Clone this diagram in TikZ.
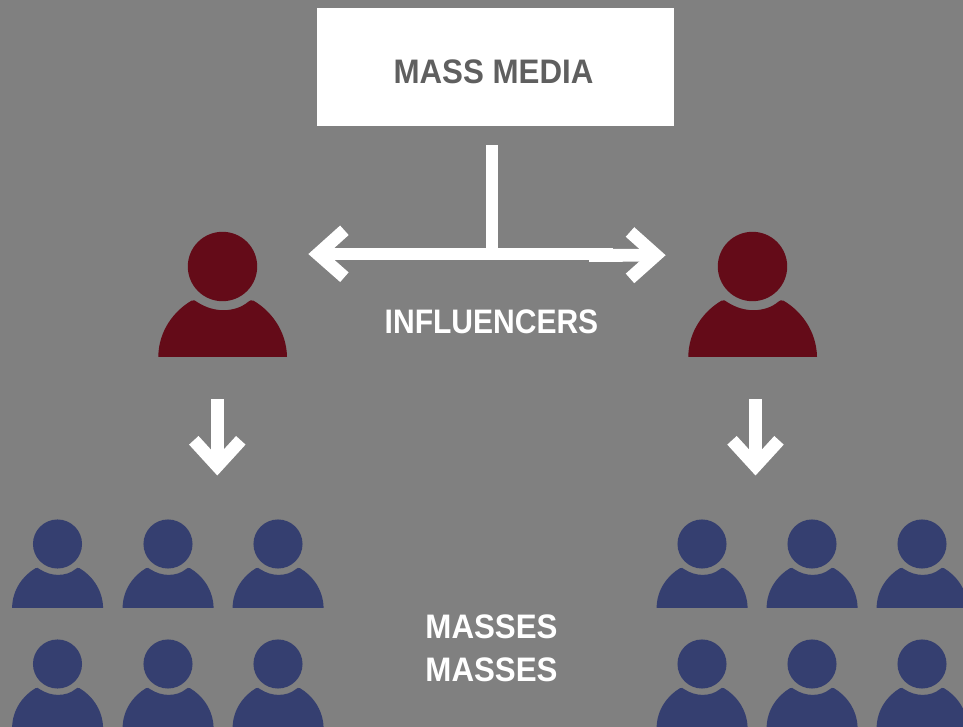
\documentclass[tikz,border=0pt]{standalone}
\usepackage{fontspec}
\setmainfont{Liberation Sans}
\newfontfamily\labelfont[FakeStretch=0.92,BoldFont={Liberation Sans Bold}]{Liberation Sans}
\definecolor{bggray}{HTML}{808080}
\definecolor{inflred}{HTML}{640B18}
\definecolor{massblue}{HTML}{353F70}
\definecolor{mediatext}{HTML}{5F5F5F}
\tikzset{
  x=0.75pt,y=-0.75pt,
  flow/.style={draw=white,line width=9.6pt,line cap=butt},
  chevron/.style={draw=white,line width=9.6pt,line cap=butt,line join=miter,miter limit=10},
  mediabox/.style={fill=white,minimum width=267.75pt,minimum height=88.5pt,inner sep=0pt},
  caption/.style={inner sep=0pt,font=\labelfont\fontsize{25.5}{28}\selectfont\bfseries},
  pics/person/.style={code={
    \fill[#1] (0,0) circle[radius=34.7];
    \fill[#1] (-64.2,90.4) .. controls (-64,64) and (-48,44) .. (-31,34.2)
      .. controls (-29,33.2) and (-27,33.8) .. (-25.6,35.4)
      .. controls (-17,41) and (-8,43.7) .. (1,43.7)
      .. controls (10,43.7) and (19,41) .. (25.6,35.4)
      .. controls (27,33.8) and (29,33.2) .. (31,34.2)
      .. controls (48,44) and (64,64) .. (64.5,90.4) -- cycle;
  }},
}
\begin{document}
\begin{tikzpicture}
\useasboundingbox[fill=bggray] (0,0) rectangle (963,727);
\node[mediabox] (media) at (495.5,67) {};
\node[caption,text=mediatext] (medialabel) at (493.5,71.5) {MASS MEDIA};
\node[caption,text=white,transform shape,xscale=.96] (influencers) at (491.5,322) {INFLUENCERS};
\node[caption,text=white] (massesa) at (491.5,627) {MASSES};
\node[caption,text=white] (massesb) at (491.5,670) {MASSES};
% people
\pic[scale=1] (inflL) at (222.5,266.5) {person=inflred};
\pic[scale=1] (inflR) at (752.5,266.5) {person=inflred};
\foreach \px/\nm in {57.5/a,168/b,278/c,702/d,812/e,922/f}{
  \pic[scale=.707] (top\nm) at (\px,544) {person=massblue};
  \pic[scale=.707] (bot\nm) at (\px,664) {person=massblue};
}
% connectors
\coordinate (stemtop) at (492,145);
\coordinate (stemfoot) at (492,254);
\coordinate (leftvertex) at (318,254);
\coordinate (splitend) at (612.5,254);
\coordinate (rightstart) at (589,255.5);
\coordinate (rightvertex) at (656,255.2);
\coordinate (downLtop) at (217.3,399);
\coordinate (downLvertex) at (217.3,466);
\coordinate (downRtop) at (755.5,399);
\coordinate (downRvertex) at (755.5,466);
\draw[flow] (stemtop) -- (stemfoot);
\draw[flow] (leftvertex) -- (splitend);
\draw[flow] (rightstart) -- (rightvertex);
\draw[flow] (downLtop) -- (downLvertex);
\draw[flow] (downRtop) -- (downRvertex);
\draw[chevron] (344.4,230.3) -- (leftvertex) -- (344.4,277.2);
\draw[chevron] (630,232) -- (rightvertex) -- (630,278.4);
\draw[chevron] (193.8,440.3) -- (downLvertex) -- (240.8,440.3);
\draw[chevron] (732,440.3) -- (downRvertex) -- (779,440.3);
\end{tikzpicture}
\end{document}
